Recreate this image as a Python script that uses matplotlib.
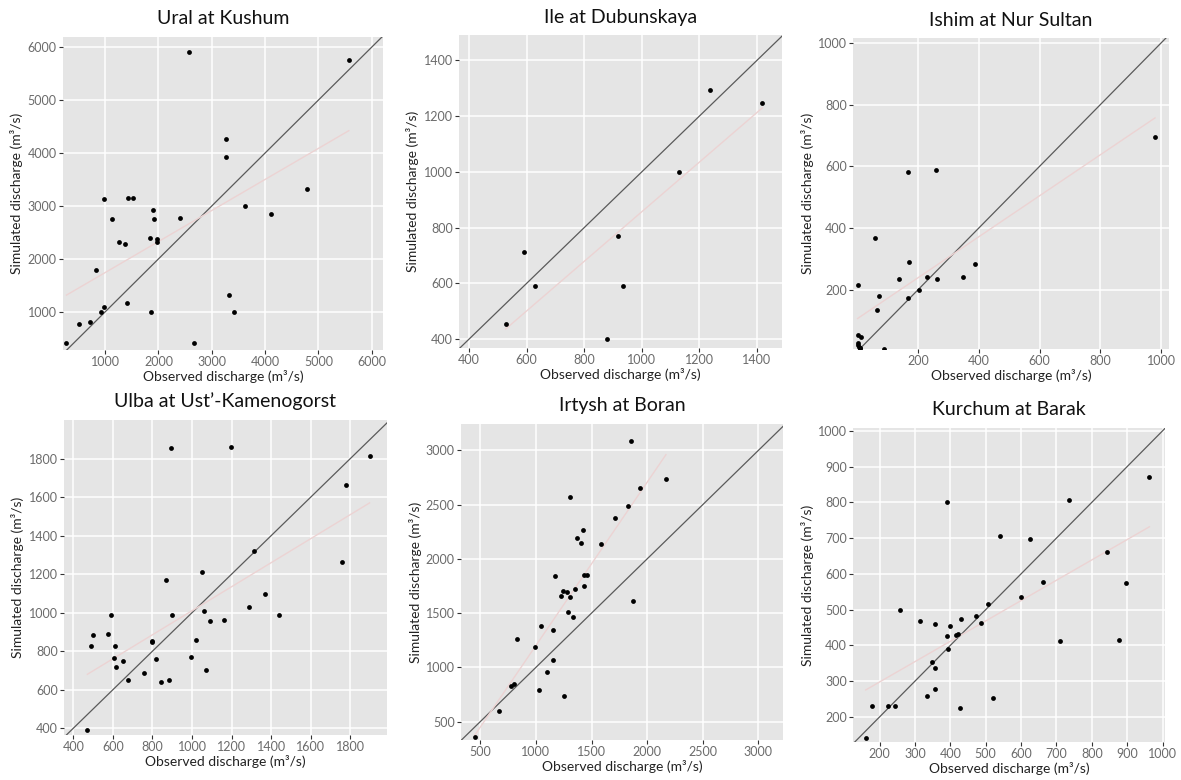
import numpy as np
import matplotlib.pyplot as plt

plt.rcParams['font.family'] = ['Lato', 'DejaVu Sans']

# observed / simulated discharge per station (m3/s)
ural_obs = [275, 506, 725, 838, 931, 975, 988, 1138, 1263, 1375, 1413, 1438, 1531,
            1844, 1856, 1894, 1919, 1969, 1975, 2406, 2575, 2675, 3275, 3275, 3319,
            3413, 3619, 4119, 4788, 5569]
ural_sim = [403, 767, 805, 1786, 1006, 1094, 3126, 2755, 2327, 2289, 1176, 3151, 3151,
            2403, 1006, 2918, 2748, 2377, 2314, 2767, 5906, 421, 4264, 3925, 1314,
            1006, 2994, 2855, 3321, 5748]

ile_obs = [527, 592, 629, 880, 917, 936, 1129, 1238, 1419]
ile_sim = [455, 711, 591, 400, 770, 591, 1000, 1294, 1248]

ishim_obs = [1, 1, 11, 2, 5, 8, 3, 10, 60, 66, 71, 88, 136, 167, 166, 169, 204, 230,
             260, 263, 348, 387, 980]
ishim_sim = [216, 52, 46, 20, 15, 10, 27, 12, 368, 135, 181, 9, 236, 581, 173, 290,
             198, 241, 589, 235, 242, 283, 696]

ulba_obs = [471, 489, 501, 577, 592, 607, 611, 616, 650, 678, 758, 800, 800, 820, 845,
            869, 884, 896, 901, 995, 1021, 1048, 1061, 1069, 1091, 1162, 1199, 1290,
            1311, 1370, 1440, 1758, 1779, 1897]
ulba_sim = [391, 827, 884, 887, 988, 766, 827, 716, 747, 651, 689, 846, 855, 759, 642,
            1171, 651, 1855, 988, 768, 856, 1209, 1008, 702, 958, 962, 1859, 1027,
            1319, 1095, 988, 1261, 1662, 1815]

irtysh_obs = [449, 667, 775, 805, 829, 990, 1026, 1050, 1104, 1155, 1155, 1176, 1224,
              1248, 1254, 1284, 1293, 1307, 1307, 1334, 1355, 1373, 1403, 1424, 1436,
              1436, 1457, 1583, 1714, 1831, 1852, 1876, 1935, 2169]
irtysh_sim = [355, 598, 832, 851, 1260, 1186, 792, 1386, 958, 1346, 1069, 1838, 1659,
              1705, 740, 1693, 1515, 2566, 1647, 1469, 1718, 2194, 2145, 2262, 1856,
              1748, 1853, 2133, 2373, 2486, 3089, 1613, 2649, 2732]

kurchum_obs = [161, 180, 224, 245, 258, 315, 334, 349, 358, 358, 358, 392, 392, 393,
               399, 416, 423, 428, 429, 472, 486, 507, 522, 541, 601, 625, 662, 709,
               735, 844, 878, 898, 963]
kurchum_sim = [141, 230, 232, 232, 498, 468, 259, 354, 460, 338, 278, 801, 425, 391,
               453, 429, 432, 226, 474, 481, 463, 516, 252, 706, 536, 697, 578, 412,
               808, 661, 414, 575, 871]

titles = ['Ural at Kushum', 'Ile at Dubunskaya', 'Ishim at Nur Sultan',
          "Ulba at Ust\u2019-Kamenogorst", 'Irtysh at Boran', 'Kurchum at Barak']

W, H = 1181, 780
# panel boxes in pixels: left, top, right, bottom
boxes = [(63, 37, 383, 350), (459, 35, 782, 348), (853, 38, 1169, 349),
         (64, 420, 387, 735), (461, 424, 783, 740), (853, 428, 1165, 742)]
limits = [((210, 6210), (280, 6190)), ((365, 1487), (368, 1491)),
          ((-14, 1026), (8, 1016)), ((353, 1985), (365, 2000)),
          ((327, 3221), (331, 3243)), ((125, 1007), (130, 1008))]
ticks = [(range(1000, 6001, 1000), range(1000, 6001, 1000)),
         (range(400, 1401, 200), range(400, 1401, 200)),
         (range(200, 1001, 200), range(200, 1001, 200)),
         (range(400, 1801, 200), range(400, 1801, 200)),
         (range(500, 3001, 500), range(500, 3001, 500)),
         (range(200, 1001, 100), range(200, 1001, 100))]
data = [(ural_obs, ural_sim), (ile_obs, ile_sim), (ishim_obs, ishim_sim),
        (ulba_obs, ulba_sim), (irtysh_obs, irtysh_sim), (kurchum_obs, kurchum_sim)]

fig = plt.figure(figsize=(W / 100, H / 100), dpi=100)

for (obs, sim), title, (l, t, r, b), (xl, yl), (xt, yt) in zip(data, titles, boxes, limits, ticks):
    ax = fig.add_axes([l / W, 1 - b / H, (r - l) / W, (b - t) / H])
    ax.set_facecolor('#e5e5e5')
    for s in ax.spines.values():
        s.set_visible(False)
    ax.set_axisbelow(True)
    ax.grid(True, color='white', lw=1.1)

    obs = np.array(obs, dtype=float)
    sim = np.array(sim, dtype=float)

    # 1:1 line and linear fit
    ax.axline((0, 0), slope=1, color='#5a5a5a', lw=0.9, zorder=2)
    k, c = np.polyfit(obs, sim, 1)
    xs = np.array([obs.min(), obs.max()])
    ax.plot(xs, k * xs + c, color='#ecd3d3', lw=1.0, zorder=2)

    ax.scatter(obs, sim, s=12, color='black', zorder=3, linewidths=0)

    ax.set_xlim(xl)
    ax.set_ylim(yl)
    ax.set_xticks(list(xt))
    ax.set_yticks(list(yt))
    ax.tick_params(colors='#333333', labelcolor='#6b6b6b', labelsize=9, length=3, pad=1.5)

    ax.set_title(title, fontsize=14, pad=9, color='#111111')
    ax.set_xlabel('Observed discharge (m\u00b3/s)', fontsize=10, labelpad=1, color='#222222')
    ax.set_ylabel('Simulated discharge (m\u00b3/s)', fontsize=10, labelpad=3, color='#222222')

fig.savefig('out.png', dpi=100)
